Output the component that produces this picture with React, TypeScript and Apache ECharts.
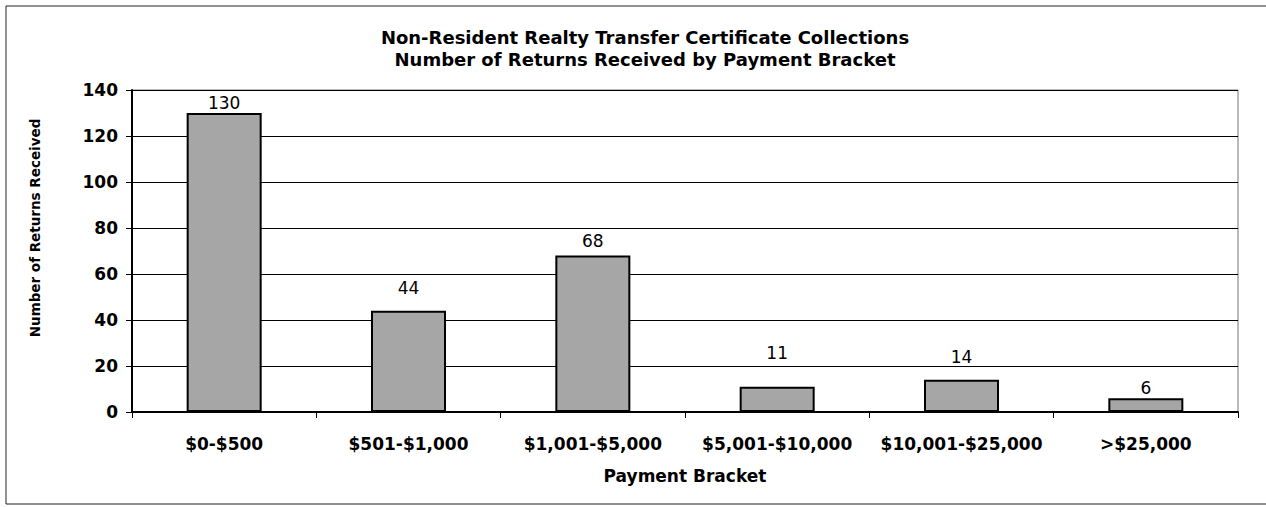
import React, { useEffect, useRef } from "react";
import * as echarts from "echarts";

const categories = ["$0-$500", "$501-$1,000", "$1,001-$5,000", "$5,001-$10,000", "$10,001-$25,000", ">$25,000"];
const returnsReceived = [130, 44, 68, 11, 14, 6];
const titleLines = ["Non-Resident Realty Transfer Certificate Collections", "Number of Returns Received by Payment Bracket"];
const yAxisTitle = "Number of Returns Received";
const xAxisTitle = "Payment Bracket";
// label gap above each bar (style only), as placed in the original
const labelDistances = [2, 14, 6, 25, 14, 2];

export default function App() {
  const ref = useRef<HTMLDivElement>(null);
  useEffect(() => {
    if (!ref.current) return;
    const chart = echarts.init(ref.current, undefined, { renderer: "svg" });
    const font = "'DejaVu Sans', Arial, sans-serif";
    chart.setOption({
      animation: false,
      backgroundColor: "#fff",
      textStyle: { fontFamily: font },
      title: {
        text: titleLines.join("\n"),
        left: 640,
        textAlign: "center",
        top: 21,
        textStyle: { fontSize: 18, fontWeight: "bold", color: "#000", lineHeight: 22, fontFamily: font },
      },
      graphic: [
        {
          type: "rect",
          shape: { x: 6, y: 6, width: 1270, height: 498 },
          style: { fill: "none", stroke: "#222", lineWidth: 1 },
          silent: true,
        },
        {
          type: "text",
          x: 35,
          y: 228,
          rotation: Math.PI / 2,
          style: {
            text: yAxisTitle,
            fontSize: 13.5,
            fontWeight: "bold",
            fill: "#000",
            fontFamily: font,
            align: "center",
            verticalAlign: "middle",
          },
          silent: true,
        },
      ],
      grid: {
        left: 132,
        right: 28,
        top: 90,
        bottom: 95,
        show: true,
        borderColor: "#777",
        borderWidth: 1,
      },
      xAxis: {
        type: "category",
        data: categories,
        name: xAxisTitle,
        nameLocation: "middle",
        nameGap: 55,
        nameTextStyle: { fontSize: 17, fontWeight: "bold", color: "#000", fontFamily: font },
        axisLine: { lineStyle: { color: "#000", width: 2 } },
        axisTick: { show: true, alignWithLabel: false, length: 6, lineStyle: { color: "#000" } },
        axisLabel: { interval: 0, fontSize: 17, fontWeight: "bold", color: "#000", margin: 23, fontFamily: font },
        splitLine: { show: false },
      },
      yAxis: {
        type: "value",
        min: 0,
        max: 140,
        interval: 20,
        axisLine: { show: true, lineStyle: { color: "#000", width: 2 } },
        axisTick: { show: true, length: 6, lineStyle: { color: "#000" } },
        axisLabel: { fontSize: 17, fontWeight: "bold", color: "#000", margin: 14, fontFamily: font },
        splitLine: { show: true, lineStyle: { color: "#000", width: 1 } },
      },
      series: [
        {
          type: "bar",
          data: returnsReceived.map((v, i) => ({ value: v, label: { distance: labelDistances[i] } })),
          barWidth: 75,
          itemStyle: { color: "#a6a6a6", borderColor: "#000", borderWidth: 2 },
          label: { show: true, position: "top", distance: 3, fontSize: 17, color: "#000", fontFamily: font },
        },
      ],
    });
    return () => chart.dispose();
  }, []);
  return <div ref={ref} style={{ position: "absolute", left: 0, top: 0, width: 1266, height: 507 }} />;
}
